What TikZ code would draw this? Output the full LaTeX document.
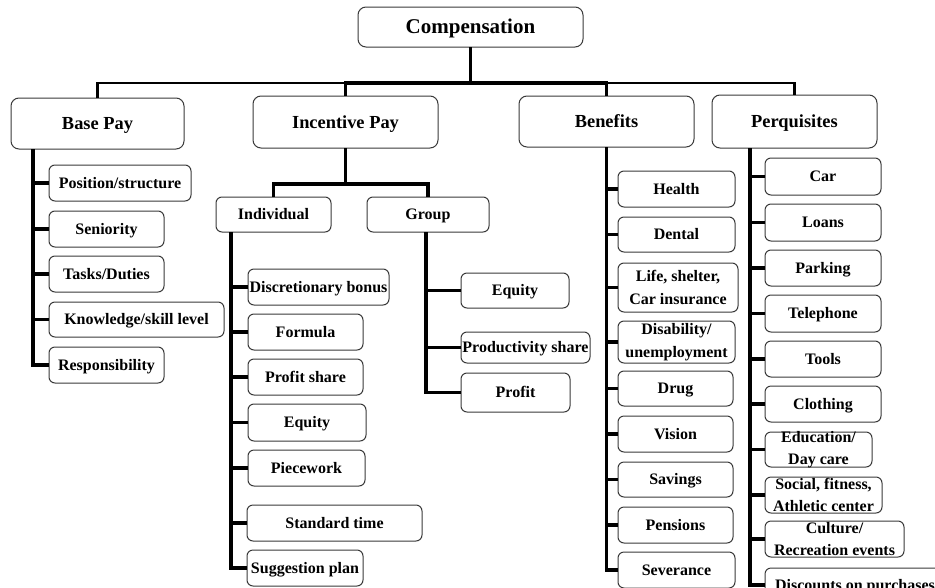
\documentclass[tikz,border=0pt]{standalone}
\usepackage{fontspec}
\setmainfont{Liberation Serif}
\definecolor{boxline}{HTML}{3A3A3A}
% \orgbox{box style}{label style}{name}{x1}{y1}{x2}{y2}{text}
\newcommand{\orgbox}[8]{%
  \node[#1, minimum width={(#6-#4)*1pt}, minimum height={(#7-#5)*1pt},
        label={[lbl,#2]center:{#8}}] (#3) at ({(#4+#6)/2},{(#5+#7)/2}) {};}
\begin{document}
\begin{tikzpicture}[x=1pt,y=-1pt,
  box/.style={draw=boxline, line width=1pt, rounded corners=6pt, fill=white,
              inner sep=0pt, outer sep=0pt},
  topbox/.style={box, rounded corners=8pt},
  lbl/.style={font=\fontsize{16}{22.5}\selectfont\bfseries, align=center,
              inner sep=0pt, text=black},
  small/.style={text height=14pt, text depth=3.4pt},
  pair/.style={},
  big/.style={font=\fontsize{18.4}{22}\selectfont\bfseries,
              text height=16.2pt, text depth=4pt},
  root/.style={font=\fontsize{21}{25}\selectfont\bfseries,
               text height=18.5pt, text depth=4.6pt},
  trunk/.style={line width=3.2pt, black},
  bus/.style={line width=2.2pt, black}]

\fill[white] (0,0) rectangle (935,587);
\useasboundingbox (0,0) rectangle (935,587);
\clip (0,0) rectangle (935,587);

% ---- top levels ----
\orgbox{topbox}{root}{comp}{358}{7}{583}{47}{Compensation}
\orgbox{topbox}{big}{bp}{11}{98}{184}{149}{Base Pay}
\orgbox{topbox}{big}{ip}{253}{96}{438}{148}{Incentive Pay}
\orgbox{topbox}{big}{ben}{519}{96}{694}{147}{Benefits}
\orgbox{topbox}{big}{pq}{712}{95}{877}{148}{Perquisites}

% ---- base pay ----
\orgbox{box}{small}{bp1}{49}{165}{191}{201}{Position/structure}
\orgbox{box}{small}{bp2}{49}{211}{164}{247}{Seniority}
\orgbox{box}{small}{bp3}{49}{256}{164}{292}{Tasks/Duties}
\orgbox{box}{small}{bp4}{49}{302}{224}{337}{Knowledge/skill level}
\orgbox{box}{small}{bp5}{49}{347}{164}{383}{Responsibility}

% ---- incentive pay ----
\orgbox{box}{small}{ind}{216}{197}{331}{232}{Individual}
\orgbox{box}{small}{grp}{367}{197}{489}{232}{Group}

\orgbox{box}{small}{in1}{248}{269}{389}{305}{Discretionary bonus}
\orgbox{box}{small}{in2}{248}{314}{363}{350}{Formula}
\orgbox{box}{small}{in3}{248}{359}{363}{395}{Profit share}
\orgbox{box}{small}{in4}{248}{404}{366}{441}{Equity}
\orgbox{box}{small}{in5}{248}{450}{365}{486}{Piecework}
\orgbox{box}{small}{in6}{247}{505}{422}{541}{Standard time}
\orgbox{box}{small}{in7}{247}{550}{363}{586}{Suggestion plan}

\orgbox{box}{small}{gr1}{461}{273}{569}{308}{Equity}
\orgbox{box}{small}{gr2}{461}{332}{590}{363}{Productivity share}
\orgbox{box}{small}{gr3}{461}{373}{570}{412}{Profit}

% ---- benefits ----
\orgbox{box}{small}{b1}{618}{171}{735}{207}{Health}
\orgbox{box}{small}{b2}{618}{217}{735}{252}{Dental}
\orgbox{box}{pair}{b3}{618}{263}{738}{312}{Life, shelter,\\Car insurance}
\orgbox{box}{pair}{b4}{618}{321}{735}{363}{Disability/\\unemployment}
\orgbox{box}{small}{b5}{618}{371}{733}{406}{Drug}
\orgbox{box}{small}{b6}{618}{416}{733}{452}{Vision}
\orgbox{box}{small}{b7}{618}{462}{733}{497}{Savings}
\orgbox{box}{small}{b8}{618}{507}{733}{543}{Pensions}
\orgbox{box}{small}{b9}{618}{552}{735}{588}{Severance}

% ---- perquisites ----
\orgbox{box}{small}{p1}{765}{158}{881}{195}{Car}
\orgbox{box}{small}{p2}{765}{204}{881}{241}{Loans}
\orgbox{box}{small}{p3}{765}{250}{881}{286}{Parking}
\orgbox{box}{small}{p4}{765}{295}{881}{332}{Telephone}
\orgbox{box}{small}{p5}{765}{341}{881}{377}{Tools}
\orgbox{box}{small}{p6}{765}{386}{881}{422}{Clothing}
\orgbox{box}{pair}{p7}{765}{432}{872}{467}{Education/\\Day care}
\orgbox{box}{pair}{p8}{765}{477}{882}{513}{Social, fitness,\\Athletic center}
\orgbox{box}{pair}{p9}{765}{521}{904}{557}{Culture/\\Recreation events}
\orgbox{box}{small}{p10}{765}{568}{945}{602}{Discounts on purchases}

% ---- connectors ----
\coordinate (cbus) at (470.5,83);
\draw[bus] (bp.north) |- (cbus) -| (pq.north);
\draw[trunk] (comp.south) -- (cbus);
\draw[trunk] (ip.north) |- (cbus) -| (ben.north);

\coordinate (btr) at (33,149);
\draw[trunk] (btr) |- (bp5.west);
\foreach \i in {1,...,4} \draw[trunk] (bp\i.west) -- (bp\i.west -| btr);

\coordinate (ibus) at (345.5,184);
\draw[trunk] (ip.south) -- (ibus);
\draw[trunk] (ind.north) |- (ibus) -| (grp.north);

\coordinate (itr) at (231,232);
\draw[trunk] (itr) |- (in7.west);
\foreach \i in {1,...,6} \draw[trunk] (in\i.west) -- (in\i.west -| itr);

\coordinate (gtr) at (426,232);
\draw[trunk] (gtr) |- (gr3.west);
\foreach \i in {1,2} \draw[trunk] (gr\i.west) -- (gr\i.west -| gtr);

\draw[trunk] (ben.south) |- (b9.west);
\foreach \i in {1,...,8} \draw[trunk] (b\i.west) -- (b\i.west -| ben.south);

\coordinate (ptr) at (750,148);
\draw[trunk] (ptr) |- (p10.west);
\foreach \i in {1,...,9} \draw[trunk] (p\i.west) -- (p\i.west -| ptr);
\end{tikzpicture}
\end{document}
